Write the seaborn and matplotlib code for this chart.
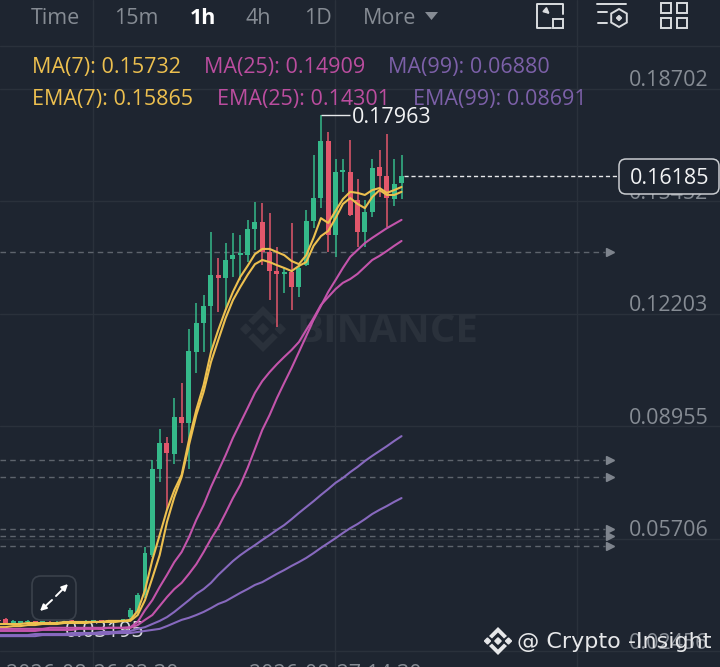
import matplotlib
matplotlib.use('Agg')
import matplotlib.pyplot as plt
from matplotlib.patches import FancyBboxPatch, Polygon, Rectangle, RegularPolygon
import seaborn as sns
import pandas as pd
import numpy as np

# ------------------------------------------------------------------------------
# DATA (prices)
# ------------------------------------------------------------------------------
opens = [0.0336, 0.0338, 0.0327, 0.0328, 0.0330, 0.0331, 0.0329, 0.0330, 0.0327, 0.0330, 0.0332, 0.0331, 0.0330, 0.0332, 0.0333, 0.0333, 0.0332, 0.0334, 0.0344,
         0.0359, 0.0408, 0.0523, 0.0772, 0.0847, 0.0815, 0.0922, 0.0905, 0.1110, 0.1194, 0.1243, 0.1333, 0.1324, 0.1379, 0.1390, 0.1390, 0.1466, 0.1486, 0.1399,
         0.1344, 0.1336, 0.1341, 0.1298, 0.1361, 0.1489, 0.1555, 0.1720, 0.1448, 0.1630, 0.1630, 0.1549, 0.1457, 0.1515, 0.1645, 0.1619, 0.1552, 0.1599]
closes = [0.0333, 0.0324, 0.0333, 0.0331, 0.0332, 0.0329, 0.0331, 0.0327, 0.0330, 0.0332, 0.0331, 0.0330, 0.0332, 0.0333, 0.0332, 0.0332, 0.0334, 0.0336, 0.0365,
          0.0408, 0.0529, 0.0772, 0.0847, 0.0818, 0.0922, 0.0905, 0.1114, 0.1194, 0.1243, 0.1333, 0.1324, 0.1376, 0.1390, 0.1396, 0.1466, 0.1486, 0.1399, 0.1344,
          0.1336, 0.1341, 0.1298, 0.1353, 0.1489, 0.1555, 0.1720, 0.1448, 0.1630, 0.1636, 0.1506, 0.1457, 0.1515, 0.1642, 0.1619, 0.1555, 0.1596, 0.16185]
highs = [0.0339, 0.0341, 0.0336, 0.0334, 0.0335, 0.0334, 0.0334, 0.0333, 0.0333, 0.0335, 0.0335, 0.0334, 0.0335, 0.0336, 0.0336, 0.0335, 0.0337, 0.0339, 0.0370,
         0.0414, 0.0547, 0.0798, 0.0888, 0.0865, 0.0977, 0.1020, 0.1177, 0.1252, 0.1275, 0.1457, 0.1382, 0.1425, 0.1454, 0.1448, 0.1492, 0.1544, 0.1541, 0.1512,
         0.1414, 0.1353, 0.1483, 0.1367, 0.1521, 0.1680, 0.17963, 0.1746, 0.1668, 0.1668, 0.1723, 0.1610, 0.1549, 0.1668, 0.1694, 0.1740, 0.1668, 0.1680]
lows = [0.0330, 0.0321, 0.0324, 0.0325, 0.0327, 0.0326, 0.0326, 0.0324, 0.0324, 0.0327, 0.0328, 0.0327, 0.0327, 0.0329, 0.0329, 0.0329, 0.0329, 0.0331, 0.0336,
        0.0350, 0.0399, 0.0518, 0.0733, 0.0654, 0.0786, 0.0847, 0.0772, 0.1049, 0.1110, 0.1110, 0.1226, 0.1232, 0.1327, 0.1318, 0.1370, 0.1405, 0.1361, 0.1260,
        0.1182, 0.1281, 0.1232, 0.1269, 0.1359, 0.1468, 0.1526, 0.1399, 0.1385, 0.1573, 0.1503, 0.1414, 0.1414, 0.1500, 0.1558, 0.1471, 0.1532, 0.1552]

ma7 = [0.0324, 0.0324, 0.0324, 0.0324, 0.0327, 0.0327, 0.0327, 0.0327, 0.0327, 0.0330, 0.0330, 0.0330, 0.0330, 0.0330, 0.0330, 0.0333, 0.0333, 0.0333, 0.0333,
       0.0350, 0.0393, 0.0457, 0.0523, 0.0619, 0.0691, 0.0749, 0.0841, 0.0928, 0.0995, 0.1081, 0.1145, 0.1208, 0.1260, 0.1298, 0.1333, 0.1364, 0.1376, 0.1370,
       0.1361, 0.1353, 0.1344, 0.1359, 0.1370, 0.1417, 0.1445, 0.1460, 0.1497, 0.1538, 0.1555, 0.1538, 0.1526, 0.1558, 0.1578, 0.1564, 0.1564, 0.1573]
ema7 = [0.0315, 0.0315, 0.0318, 0.0318, 0.0321, 0.0321, 0.0324, 0.0324, 0.0324, 0.0327, 0.0327, 0.0327, 0.0327, 0.0330, 0.0330, 0.0330, 0.0330, 0.0333, 0.0336,
        0.0362, 0.0422, 0.0509, 0.0581, 0.0654, 0.0711, 0.0755, 0.0856, 0.0943, 0.1015, 0.1110, 0.1174, 0.1232, 0.1284, 0.1327, 0.1359, 0.1393, 0.1408, 0.1408,
        0.1399, 0.1390, 0.1373, 0.1364, 0.1390, 0.1440, 0.1497, 0.1483, 0.1518, 0.1552, 0.1573, 0.1570, 0.1564, 0.1578, 0.1584, 0.1570, 0.1578, 0.1587]
ma25 = [0.0310, 0.0310, 0.0310, 0.0310, 0.0310, 0.0310, 0.0310, 0.0313, 0.0313, 0.0313, 0.0313, 0.0313, 0.0313, 0.0313, 0.0313, 0.0313, 0.0313, 0.0313, 0.0313,
        0.0321, 0.0336, 0.0350, 0.0376, 0.0402, 0.0425, 0.0443, 0.0469, 0.0497, 0.0532, 0.0570, 0.0604, 0.0645, 0.0688, 0.0726, 0.0775, 0.0830, 0.0885, 0.0928,
        0.0977, 0.1021, 0.1064, 0.1110, 0.1156, 0.1203, 0.1243, 0.1284, 0.1318, 0.1353, 0.1385, 0.1405, 0.1425, 0.1440, 0.1454, 0.1468, 0.1480, 0.1492]
ema25 = [0.0304, 0.0304, 0.0304, 0.0304, 0.0304, 0.0304, 0.0307, 0.0307, 0.0307, 0.0307, 0.0307, 0.0310, 0.0310, 0.0310, 0.0310, 0.0313, 0.0313, 0.0313, 0.0315,
         0.0330, 0.0364, 0.0393, 0.0431, 0.0466, 0.0503, 0.0532, 0.0575, 0.0625, 0.0668, 0.0720, 0.0766, 0.0812, 0.0862, 0.0905, 0.0948, 0.0992, 0.1026, 0.1052,
         0.1075, 0.1096, 0.1116, 0.1139, 0.1174, 0.1208, 0.1246, 0.1269, 0.1292, 0.1310, 0.1321, 0.1336, 0.1356, 0.1376, 0.1388, 0.1402, 0.1417, 0.1431]
ma99 = [0.0289, 0.0289, 0.0289, 0.0289, 0.0289, 0.0289, 0.0292, 0.0292, 0.0292, 0.0292, 0.0292, 0.0292, 0.0295, 0.0295, 0.0295, 0.0295, 0.0298, 0.0298, 0.0298,
        0.0301, 0.0304, 0.0307, 0.0310, 0.0318, 0.0327, 0.0336, 0.0342, 0.0350, 0.0359, 0.0370, 0.0382, 0.0390, 0.0402, 0.0414, 0.0425, 0.0437, 0.0445, 0.0457,
        0.0469, 0.0480, 0.0492, 0.0503, 0.0515, 0.0529, 0.0544, 0.0558, 0.0572, 0.0587, 0.0601, 0.0613, 0.0627, 0.0642, 0.0654, 0.0665, 0.0677, 0.0688]
ema99 = [0.0292, 0.0292, 0.0292, 0.0292, 0.0292, 0.0295, 0.0295, 0.0295, 0.0295, 0.0295, 0.0298, 0.0298, 0.0298, 0.0298, 0.0301, 0.0301, 0.0301, 0.0304, 0.0304,
         0.0310, 0.0315, 0.0324, 0.0333, 0.0344, 0.0359, 0.0376, 0.0393, 0.0411, 0.0425, 0.0443, 0.0466, 0.0486, 0.0506, 0.0523, 0.0538, 0.0552, 0.0567, 0.0581,
         0.0596, 0.0610, 0.0627, 0.0645, 0.0662, 0.0679, 0.0697, 0.0714, 0.0732, 0.0746, 0.0763, 0.0778, 0.0795, 0.0810, 0.0824, 0.0838, 0.0853, 0.0867]

price_ticks = [0.18702, 0.15452, 0.12203, 0.08955, 0.05706, 0.02456]
price_labels = ['0.18702', '0.15452', '0.12203', '0.08955', '0.05706', '0.02456']
order_levels = [0.1399, 0.0798, 0.0749, 0.0599, 0.0578, 0.0549]
last_price = 0.16185
high_price = 0.17963
low_price = 0.03195
time_labels = ['2026-08-26 02:30', '2026-08-27 14:30']
intervals = ['Time', '15m', '1h', '4h', '1D', 'More']

# ------------------------------------------------------------------------------
# STYLE
# ------------------------------------------------------------------------------
BG = '#1E2530'
GRID = '#2A313B'
MUTED = '#868C94'
GREEN = '#35B98A'
RED = '#E2576B'
YELLOW = '#EDC04F'
PINK = '#C354AB'
PURPLE = '#8769BE'
FONT = 'Open Sans'
NUM_SIZE = 15.5


def draw_logo(ax, cx, cy, r, color):
    """Binance style mark: a centre diamond with four chevrons round it."""
    s = r / 14.0
    ax.add_patch(RegularPolygon((cx, cy), 4, radius=3.2 * s, color=color))
    ax.add_patch(RegularPolygon((cx - 10.5 * s, cy), 4, radius=3 * s, color=color))
    ax.add_patch(RegularPolygon((cx + 10.5 * s, cy), 4, radius=3 * s, color=color))
    for sign in (-1, 1):
        chevron = [(cx - 9 * s, cy + sign * 5 * s), (cx, cy + sign * 14 * s), (cx + 9 * s, cy + sign * 5 * s),
                   (cx + 6 * s, cy + sign * 2.5 * s), (cx, cy + sign * 8.5 * s), (cx - 6 * s, cy + sign * 2.5 * s)]
        ax.add_patch(Polygon(chevron, closed=True, color=color, lw=0))


def pixel_axes(fig, zorder):
    """Overlay in image pixels, for the app chrome round the chart."""
    a = fig.add_axes([0, 0, 1, 1], zorder=zorder)
    a.set_xlim(0, 720)
    a.set_ylim(667, 0)
    a.axis('off')
    a.patch.set_alpha(0)
    return a


def main():
    sns.set_theme(style='dark', rc={'figure.facecolor': BG, 'axes.facecolor': BG})
    plt.rcParams['font.family'] = [FONT, 'DejaVu Sans']

    fig = plt.figure(figsize=(7.2, 6.67), dpi=100)
    back = pixel_axes(fig, 0)
    back.text(387, 331, 'BINANCE', color=GRID, fontsize=29, fontweight='bold', ha='center', va='center')
    draw_logo(back, 263, 329, 23, GRID)

    ax = fig.add_axes([0, 0, 1, 1], zorder=1)
    ax.patch.set_alpha(0)
    ax.set_xlim(0.218, 98.45)
    ax.set_ylim(0.01998, 0.21274)

    # price grid, the top line is the header rule
    ax.set_yticks(price_ticks)
    ax.set_xticks([12.85, 45.95, 79.0])
    ax.set_xticklabels([])
    ax.set_yticklabels([])
    ax.tick_params(length=0)
    ax.grid(True, color=GRID, linewidth=1)
    for s in ax.spines.values():
        s.set_visible(False)

    # open order levels
    ax.hlines(order_levels, 0.218, 82.8, color='#5E646D', linewidth=1, linestyle=(0, (4, 3)), zorder=1.5)
    ax.plot([83.4] * len(order_levels), order_levels, linestyle='none', marker='>', markersize=6, color='#7E848D', zorder=1.5)

    # candles
    idx = np.arange(len(opens))
    o, c, h, l = map(np.array, (opens, closes, highs, lows))
    colors = np.where(c >= o, GREEN, RED)
    ax.vlines(idx, l, h, color=colors, linewidth=1.1, zorder=2)
    ax.bar(idx, np.maximum(np.abs(c - o), 0.00035), bottom=np.minimum(o, c), width=0.68, color=colors, linewidth=0, zorder=2)

    # low marker sits under the averages
    ax.annotate(f'{low_price:.5f}', (9.1, low_price), xytext=(0, -6), textcoords='offset pixels', color='#D8DADD',
                fontsize=NUM_SIZE, ha='left', va='center', zorder=3, annotation_clip=False)

    # moving averages
    names = ['MA7', 'EMA7', 'MA25', 'EMA25', 'MA99', 'EMA99']
    series = [ma7, ema7, ma25, ema25, ma99, ema99]
    df = pd.concat([pd.DataFrame({'idx': idx, 'price': v, 'name': n}) for n, v in zip(names, series)])
    sns.lineplot(data=df, x='idx', y='price', hue='name', ax=ax, sort=False, errorbar=None, legend=False, linewidth=1.5, zorder=4,
                 palette={'MA7': YELLOW, 'EMA7': YELLOW, 'MA25': PINK, 'EMA25': PINK, 'MA99': PURPLE, 'EMA99': PURPLE})
    ax.set_xlabel('')
    ax.set_ylabel('')

    # high marker
    top_idx = int(np.argmax(h))
    ax.hlines(high_price, top_idx, top_idx + 4.0, color='#E8E9EB', linewidth=1, zorder=5)
    ax.annotate(f'{high_price:.5f}', (top_idx + 4.2, high_price), xytext=(0, -3), textcoords='offset pixels',
                color='#F2F3F4', fontsize=NUM_SIZE, ha='left', va='center', zorder=5)

    # last price line
    ax.hlines(last_price, idx[-1] + 0.4, 84.6, color='#E8E9EB', linewidth=1, linestyle=(0, (3, 2)), zorder=5)

    # right hand price labels sit just above their grid lines
    for tick, label in zip(price_ticks, price_labels):
        ax.annotate(label, (629, tick), xycoords=('figure pixels', 'data'), xytext=(0, 8), textcoords='offset pixels',
                    color=MUTED, fontsize=NUM_SIZE, ha='left', va='center', zorder=5)

    # time labels, cut by the bottom edge
    ui = pixel_axes(fig, 2)
    ui.text(92.6, 674, time_labels[0], color=MUTED, fontsize=NUM_SIZE, ha='center', va='center', clip_on=True)
    ui.text(335.5, 674, time_labels[1], color=MUTED, fontsize=NUM_SIZE, ha='center', va='center', clip_on=True)

    # last price box
    ui.add_patch(FancyBboxPatch((622, 162), 94, 29, boxstyle='round,pad=3,rounding_size=7', facecolor=BG, edgecolor='#C9CCD0', linewidth=1.1))
    ui.text(669.5, 179, f'{last_price:.5f}', color='#F2F3F4', fontsize=NUM_SIZE, ha='center', va='center')

    # header
    ui.plot([0, 720], [46, 46], color=GRID, linewidth=1)
    for name, x in zip(intervals, [31, 114, 190, 246, 304, 363]):
        active = name == '1h'
        ui.text(x, 18, name, color='white' if active else MUTED, fontsize=15.5, fontweight='bold' if active else 'normal', ha='left', va='center')
    ui.add_patch(Polygon([(425, 12), (438, 12), (431.5, 20)], closed=True, color=MUTED, lw=0))

    # indicator legend rows
    rows = [(32, 68, 'MA(7): 0.15732', YELLOW), (204, 68, 'MA(25): 0.14909', '#BB4D9F'), (388, 68, 'MA(99): 0.06880', '#7C60A8'),
            (32, 100, 'EMA(7): 0.15865', YELLOW), (217, 100, 'EMA(25): 0.14301', '#BB4D9F'), (413, 100, 'EMA(99): 0.08691', '#7C60A8')]
    for x, y, text, color in rows:
        ui.text(x, y, text, color=color, fontsize=NUM_SIZE, ha='left', va='center')

    # toolbar icons
    icon = '#DADCDF'
    ui.plot([563, 563, 537, 537, 551], [14, 4, 4, 28, 28], color=icon, linewidth=1.4)
    ui.add_patch(Rectangle((553, 19), 10, 9, fill=False, edgecolor=icon, linewidth=1.4))
    ui.annotate('', xy=(552, 16), xytext=(544, 9), arrowprops=dict(arrowstyle='-|>', color=icon, lw=1.4, mutation_scale=8))
    ui.plot([597, 626], [4, 4], color=icon, linewidth=1.4)
    ui.plot([598, 607], [12, 12], color=icon, linewidth=1.4)
    ui.plot([598, 607], [23, 23], color=icon, linewidth=1.4)
    ui.add_patch(RegularPolygon((619, 18), 6, radius=9, fill=False, edgecolor=icon, linewidth=1.4))
    ui.add_patch(RegularPolygon((619, 18), 4, radius=2.5, color=icon))
    for x in (661, 677):
        for y in (3, 18):
            ui.add_patch(Rectangle((x, y), 10, 10, fill=False, edgecolor=icon, linewidth=1.4))

    # expand button
    ui.add_patch(FancyBboxPatch((38, 582), 32, 32, boxstyle='round,pad=6,rounding_size=9', fill=False, edgecolor='#3A414B', linewidth=1.2))
    arrow = dict(arrowstyle='-|>', color='white', lw=1.4, mutation_scale=9, shrinkA=0, shrinkB=0)
    ui.annotate('', xy=(68, 584), xytext=(56, 596), arrowprops=arrow)
    ui.annotate('', xy=(40, 611), xytext=(52, 600), arrowprops=arrow)

    # watermark in the corner
    draw_logo(ui, 498, 641, 14, '#E6E7E9')
    ui.text(517, 642, '@ Crypto -Insight', color='#E6E7E9', fontsize=16, family='DejaVu Sans', ha='left', va='center')

    plt.savefig('out.png', dpi=100, facecolor=BG)
    plt.close(fig)


if __name__ == '__main__':
    main()
